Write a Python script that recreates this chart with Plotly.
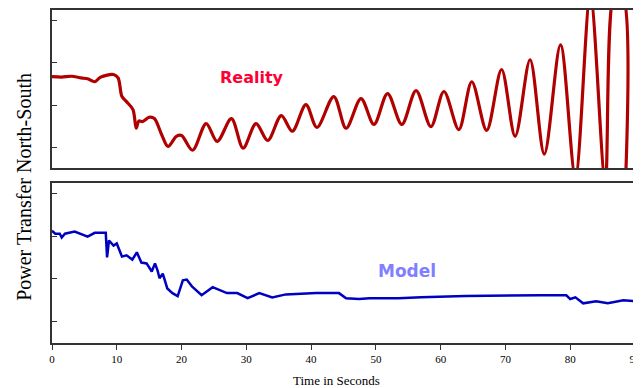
import plotly.graph_objects as go

# Reality (measured) trace: time in seconds, power transfer
reality_t = [0, 1.5, 3, 4.5, 5.5, 6.6, 7.5, 9.5, 10.2, 10.8, 11.5, 12.5, 13.0, 13.4, 14.0, 15.0, 15.8,
             16.9, 17.9, 19.2, 20.0, 21.7, 23.8, 25.5, 27.7, 29.5, 31.5, 33.3, 35.4, 37.1, 39.2, 40.9,
             43.5, 45.4, 47.7, 49.7, 51.8, 54.0, 56.2, 58.5, 60.5, 62.8, 64.8, 67.1, 69.4, 71.5, 73.8,
             76.0, 78.5, 80.8, 83.1, 85.4, 86.9, 88.1, 88.5]
reality_v = [2.67, 2.66, 2.68, 2.64, 2.62, 2.55, 2.66, 2.72, 2.64, 2.20, 2.08, 1.89, 1.45, 1.62, 1.61, 1.71, 1.68,
             1.31, 1.02, 1.26, 1.28, 0.93, 1.56, 1.14, 1.68, 0.98, 1.56, 1.16, 1.75, 1.38, 2.01, 1.47,
             2.20, 1.45, 2.15, 1.54, 2.27, 1.54, 2.34, 1.49, 2.32, 1.42, 2.55, 1.40, 2.84, 1.26, 3.07,
             0.84, 3.42, 0.30, 4.60, 0.20, 4.70, 4.60, 0.00]

# Model (simulated) trace
model_t = [0, 0.5, 1.2, 1.5, 2.0, 3.5, 5.5, 6.6, 8.3, 8.5, 8.8, 9.5, 10.0, 10.8, 11.5, 12.4, 13.1, 13.8,
           14.6, 15.4, 15.9, 16.3, 16.6, 17.1, 17.8, 18.6, 19.4, 20.2, 20.8, 21.6, 23.1, 24.8, 27.0, 28.6,
           30.2, 32.0, 34.0, 36.1, 40.8, 44.3, 45.4, 47.4, 49.0, 53.5, 57.0, 63.8, 75.4, 79.4, 80.0, 80.8,
           82.0, 84.0, 85.8, 88.2, 90.0]
model_v = [3.13, 3.06, 3.06, 2.97, 3.06, 3.11, 2.99, 3.08, 3.08, 2.50, 2.90, 2.78, 2.83, 2.52, 2.55, 2.45, 2.62, 2.38,
           2.36, 2.17, 2.36, 2.19, 2.01, 2.12, 1.77, 1.66, 1.59, 1.96, 1.98, 1.82, 1.61, 1.80, 1.66, 1.66,
           1.54, 1.66, 1.56, 1.63, 1.66, 1.66, 1.54, 1.52, 1.54, 1.54, 1.56, 1.59, 1.61, 1.61, 1.52, 1.56,
           1.42, 1.47, 1.42, 1.49, 1.47]

x_ticks = [0, 10, 20, 30, 40, 50, 60, 70, 80, 90]
y_ticks = [1, 2, 3, 4]

fig = go.Figure()
fig.add_trace(go.Scatter(x=reality_t, y=reality_v, mode="lines", xaxis="x", yaxis="y",
                         line=dict(color="#b00000", width=3.2, shape="spline", smoothing=0.9),
                         showlegend=False, hoverinfo="skip"))
fig.add_trace(go.Scatter(x=model_t, y=model_v, mode="lines", xaxis="x2", yaxis="y2",
                         line=dict(color="#0000c0", width=2.5, shape="linear"),
                         showlegend=False, hoverinfo="skip"))

frame = dict(showline=True, linecolor="#333333", linewidth=1.5, mirror=True, showgrid=False, zeroline=False)

# the page body adds an 8px offset, so the figure is 8px smaller than the window
fig.update_layout(
    width=633, height=380,
    margin=dict(l=44, r=3, t=0, b=45),
    plot_bgcolor="white", paper_bgcolor="white",
    xaxis=dict(domain=[0, 1], range=[0, 90], anchor="y", showticklabels=False, ticks="", **frame),
    yaxis=dict(domain=[0.525, 1], range=[0.506, 4.247], tickvals=y_ticks, showticklabels=False,
               ticks="inside", ticklen=5, tickcolor="#333333", anchor="x", **frame),
    xaxis2=dict(domain=[0, 1], range=[0, 90], anchor="y2", tickvals=x_ticks,
                ticks="outside", ticklen=5, tickcolor="#333333", ticklabeloverflow="allow",
                tickfont=dict(family="Liberation Serif", size=11, color="black"), **frame),
    yaxis2=dict(domain=[0, 0.4806], range=[0.485, 4.255], tickvals=y_ticks, showticklabels=False,
                ticks="inside", ticklen=5, tickcolor="#333333", anchor="x2", **frame),
    annotations=[
        dict(text="<b>Reality</b>", x=30.8, y=2.65, xref="x", yref="y", showarrow=False,
             font=dict(family="DejaVu Sans", size=16, color="#ff0033")),
        dict(text="<b>Model</b>", x=54.8, y=2.19, xref="x2", yref="y2", showarrow=False,
             font=dict(family="DejaVu Sans", size=17, color="#7f7fff")),
        dict(text="Power Transfer North-South", x=-0.048, y=0.469, xref="paper", yref="paper",
             xanchor="center", yanchor="middle", textangle=-90, showarrow=False,
             font=dict(family="Liberation Serif", size=20, color="black")),
        dict(text="Time in Seconds", x=0.488, y=-0.112, xref="paper", yref="paper",
             xanchor="center", yanchor="middle", showarrow=False,
             font=dict(family="Liberation Serif", size=13, color="black")),
    ],
)

fig.write_html("out.html")
